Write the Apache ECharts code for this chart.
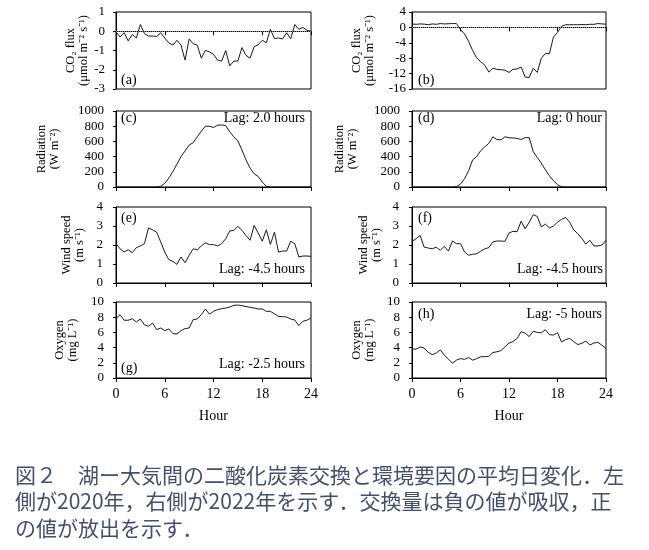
<!DOCTYPE html>
<html lang="ja">
<head>
<meta charset="UTF-8">
<title>図2 湖ー大気間の二酸化炭素交換と環境要因の平均日変化</title>
<script src="https://cdn.jsdelivr.net/npm/echarts@6.0.0/dist/echarts.min.js"></script>
<style>
    html, body { margin: 0; padding: 0; background: #fff; }
    #main { width: 649px; height: 550px; }
</style>
</head>
<body>
<div id="main"></div>

<script>
    // half-hourly means, 0 - 24 h
    var hours = [0, 0.5, 1, 1.5, 2, 2.5, 3, 3.5, 4, 4.5, 5, 5.5, 6, 6.5, 7, 7.5, 8, 8.5, 9, 9.5,
        10, 10.5, 11, 11.5, 12, 12.5, 13, 13.5, 14, 14.5, 15, 15.5, 16, 16.5, 17, 17.5, 18, 18.5, 19, 19.5,
        20, 20.5, 21, 21.5, 22, 22.5, 23, 23.5, 24];

    // left column = 2020, right column = 2022
    var co2_2020 = [-0.03, -0.3, -0.07, -0.5, -0.17, -0.35, 0.35, -0.12, -0.25, -0.25,
        -0.27, -0.08, -0.35, -0.6, -0.72, -0.47, -0.72, -1.5, -0.4, -0.65,
        -0.72, -1.4, -1.0, -1.07, -1.2, -1.5, -1.55, -1.0, -1.8, -1.55,
        -1.55, -0.85, -1.25, -1.4, -0.8, -0.7, -0.47, -0.6, 0.1, -0.38,
        -0.35, -0.4, -0.08, -0.4, 0.35, 0.1, 0.2, 0.05, 0.0];
    var co2_2022 = [0.9, 0.8, 0.9, 0.85, 0.7, 0.9, 0.8, 1.0, 0.9, 0.95,
        1.0, 1.0, -0.6, -1.7, -3.6, -6.0, -7.9, -8.9, -9.8, -11.6,
        -10.6, -10.9, -11.0, -11.1, -11.7, -10.9, -10.8, -10.3, -12.9, -13.0,
        -10.6, -11.7, -8.0, -6.8, -6.8, -2.5, -1.3, 0.3, 0.7, 0.7,
        0.7, 0.7, 0.75, 0.7, 0.8, 0.8, 1.0, 0.9, 0.85];
    var rad_2020 = [0, 0, 0, 0, 0, 0, 0, 0, 0, 0,
        0, 10, 48, 117, 204, 300, 400, 474, 552, 583,
        660, 735, 800, 800, 783, 813, 817, 809, 726, 660,
        609, 487, 357, 248, 174, 139, 65, 9, 0, 0,
        0, 0, 0, 0, 0, 0, 0, 0, 0];
    var rad_2022 = [0, 0, 0, 0, 0, 0, 0, 0, 0, 0,
        0, 5, 39, 109, 213, 357, 400, 478, 530, 574,
        660, 625, 620, 660, 648, 645, 640, 625, 650, 650,
        465, 388, 313, 226, 148, 83, 30, 4, 0, 0,
        0, 0, 0, 0, 0, 0, 0, 0, 0];
    var wind_2020 = [2.07, 1.8, 1.63, 1.75, 1.6, 1.86, 1.95, 2.07, 2.9, 2.8,
        2.68, 2.16, 1.63, 1.23, 1.14, 0.98, 1.37, 1.07, 1.46, 1.8,
        1.75, 1.95, 2.12, 2.02, 2.02, 1.95, 2.07, 2.33, 2.74, 2.77,
        2.98, 2.77, 2.5, 2.25, 3.03, 2.63, 2.2, 2.8, 2.03, 2.68,
        1.63, 1.68, 1.68, 2.2, 2.07, 1.37, 1.42, 1.42, 1.4];
    var wind_2022 = [2.19, 2.33, 2.5, 1.89, 1.84, 1.8, 1.89, 1.72, 1.93, 1.68,
        2.21, 2.07, 2.07, 1.63, 1.46, 1.51, 1.54, 1.67, 1.8, 1.86,
        2.16, 2.21, 2.21, 2.19, 2.63, 2.72, 2.7, 3.25, 2.85, 3.2,
        3.6, 3.5, 2.95, 3.1, 2.9, 3.0, 3.2, 3.35, 3.45, 3.2,
        2.8, 2.6, 2.35, 2.05, 2.25, 1.95, 1.95, 2.0, 2.25];
    var oxy_2020 = [7.8, 8.33, 7.6, 7.6, 7.8, 7.37, 7.76, 7.0, 6.8, 7.24,
        6.36, 6.58, 6.23, 6.45, 5.83, 5.8, 6.23, 6.5, 6.58, 7.68,
        7.76, 8.33, 9.08, 8.4, 8.77, 9.0, 9.12, 9.2, 9.34, 9.56,
        9.6, 9.52, 9.4, 9.3, 9.2, 9.08, 9.08, 8.77, 8.77, 8.46,
        8.1, 8.07, 8.03, 7.76, 7.63, 6.9, 7.46, 7.6, 7.9];
    var oxy_2022 = [3.8, 3.8, 4.08, 3.95, 3.38, 3.07, 3.29, 3.7, 3.0, 2.5,
        1.95, 2.35, 2.55, 2.45, 2.7, 2.35, 2.55, 2.8, 2.8, 2.85,
        3.35, 3.45, 3.6, 4.1, 4.6, 4.8, 5.2, 6.1, 5.9, 5.45,
        6.15, 6.0, 5.95, 6.35, 5.7, 5.65, 5.95, 4.75, 5.05, 5.2,
        4.8, 4.4, 4.55, 4.85, 4.35, 4.6, 4.7, 4.3, 3.9];

    var panelLetters = ['(a)', '(b)', '(c)', '(d)', '(e)', '(f)', '(g)', '(h)'];
    var lagTexts = ['', '', 'Lag: 2.0 hours', 'Lag: 0 hour', 'Lag: -4.5 hours', 'Lag: -4.5 hours', 'Lag: -2.5 hours', 'Lag: -5 hours'];
    var captionLines = [
        '図２　湖ー大気間の二酸化炭素交換と環境要因の平均日変化．左',
        '側が2020年，右側が2022年を示す．交換量は負の値が吸収，正',
        'の値が放出を示す．'
    ];

    var serif = '"Liberation Serif", "Times New Roman", serif';

    var colLeft = [116, 412];
    var colWidth = [195, 194];
    var rowTop = [12, 111, 207, 302];
    var rowHeight = [77, 76, 76, 76];

    var panels = [
        {data: co2_2020, min: -3, max: 1, step: 1, name: 'CO₂ flux\n(μmol m⁻² s⁻¹)', gap: 26, margin: 11, zero: true},
        {data: co2_2022, min: -16, max: 4, step: 4, name: 'CO₂ flux\n(μmol m⁻² s⁻¹)', gap: 36, margin: 6, zero: true},
        {data: rad_2020, min: 0, max: 1000, step: 200, name: 'Radiation\n(W m⁻²)', gap: 55, margin: 12},
        {data: rad_2022, min: 0, max: 1000, step: 200, name: 'Radiation\n(W m⁻²)', gap: 53, margin: 12},
        {data: wind_2020, min: 0, max: 4, step: 1, name: 'Wind speed\n(m s⁻¹)', gap: 30, margin: 13},
        {data: wind_2022, min: 0, max: 4, step: 1, name: 'Wind speed\n(m s⁻¹)', gap: 29, margin: 13},
        {data: oxy_2020, min: 0, max: 10, step: 2, name: 'Oxygen\n(mg L⁻¹)', gap: 37, margin: 12},
        {data: oxy_2022, min: 0, max: 10, step: 2, name: 'Oxygen\n(mg L⁻¹)', gap: 36, margin: 12}
    ];

    // where the letter / lag text sit in each panel
    var notePos = [
        {lx: 121, ly: 80},
        {lx: 418, ly: 80},
        {lx: 121, ly: 118, rx: 305, ry: 118},
        {lx: 418, ly: 118, rx: 602, ry: 118},
        {lx: 121, ly: 218, rx: 305, ry: 269},
        {lx: 418, ly: 218, rx: 603, ry: 269},
        {lx: 121, ly: 368, rx: 305, ry: 364},
        {lx: 418, ly: 314, rx: 602, ry: 314}
    ];

    var grids = [], xAxes = [], yAxes = [], series = [], graphics = [];

    panels.forEach(function (p, i) {
        var row = Math.floor(i / 2), col = i % 2;
        var bottomRow = row === 3;

        grids.push({
            left: colLeft[col], top: rowTop[row],
            width: colWidth[col], height: rowHeight[row],
            show: true, borderColor: '#000', borderWidth: 1
        });

        xAxes.push({
            gridIndex: i, type: 'value', min: 0, max: 24, interval: 6,
            axisLine: {show: true, lineStyle: {color: '#000', width: 1}},
            axisTick: {show: true, inside: false, length: 4, lineStyle: {color: '#000'}},
            splitLine: {show: false},
            axisLabel: {show: bottomRow, fontFamily: serif, fontSize: 14, color: '#000', margin: 9},
            name: bottomRow ? 'Hour' : '',
            nameLocation: 'middle', nameGap: 31,
            nameTextStyle: {fontFamily: serif, fontSize: 14, color: '#000'}
        });

        yAxes.push({
            gridIndex: i, type: 'value', min: p.min, max: p.max, interval: p.step,
            axisLine: {show: true, lineStyle: {color: '#000', width: 1}},
            axisTick: {show: true, inside: false, length: 3, lineStyle: {color: '#000'}},
            splitLine: {show: false},
            axisLabel: {
                fontFamily: serif, fontSize: 13, color: '#000', margin: p.margin,
                formatter: function (v) { return String(v); }
            },
            name: p.name, nameLocation: 'middle', nameRotate: 90, nameGap: p.gap,
            nameTextStyle: {fontFamily: serif, fontSize: 12.5, lineHeight: 13, color: '#000'}
        });

        var s = {
            type: 'line', xAxisIndex: i, yAxisIndex: i,
            data: hours.map(function (h, k) { return [h, p.data[k]]; }),
            showSymbol: false, symbol: 'none',
            lineStyle: {color: '#1a1a1a', width: 1},
            silent: true
        };
        if (p.zero) {
            s.markLine = {
                silent: true, symbol: 'none', label: {show: false},
                lineStyle: {type: 'dotted', color: '#8c8c8c', width: 1},
                data: [{yAxis: 0}]
            };
        }
        series.push(s);

        var n = notePos[i];
        graphics.push({
            type: 'text', x: n.lx, y: n.ly, silent: true,
            style: {text: panelLetters[i], fontFamily: serif, fontSize: 14, fill: '#000', align: 'left', verticalAlign: 'middle'}
        });
        if (lagTexts[i]) {
            graphics.push({
                type: 'text', x: n.rx, y: n.ry, silent: true,
                style: {text: lagTexts[i], fontFamily: serif, fontSize: 14, fill: '#000', align: 'right', verticalAlign: 'middle'}
            });
        }
    });

    var captionY = [475, 501, 528];
    captionLines.forEach(function (line, k) {
        graphics.push({
            type: 'text', x: 15, y: captionY[k], silent: true,
            style: {text: line, fontFamily: '"Noto Sans CJK JP", sans-serif', fontSize: 21, fill: '#445069', align: 'left', verticalAlign: 'middle'}
        });
    });

    var myChart = echarts.init(document.getElementById('main'));

    var option = {
        animation: false,
        backgroundColor: '#fff',
        grid: grids,
        xAxis: xAxes,
        yAxis: yAxes,
        series: series,
        graphic: graphics
    };

    myChart.setOption(option, true);
</script>
</body>
</html>
